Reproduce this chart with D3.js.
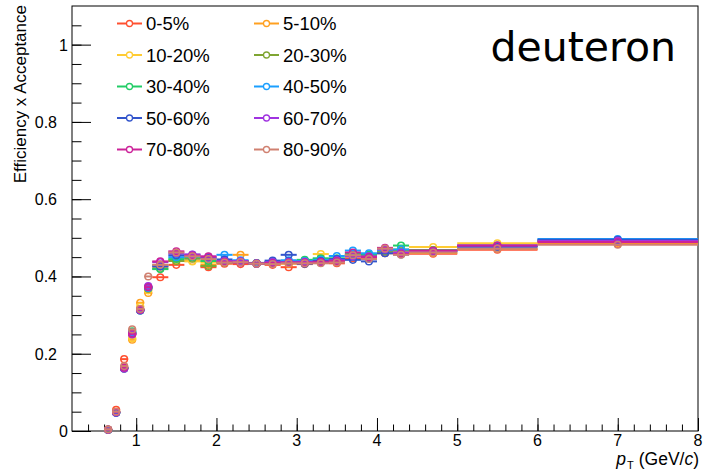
<!DOCTYPE html>
<html>
<head>
<meta charset="utf-8">
<script src="https://cdn.jsdelivr.net/npm/d3@7"></script>
<style>
body { margin: 0; background: #ffffff; }
</style>
</head>
<body>
<div id="chart"></div>
<script>

var width = 703
var height = 472

var margin_left = 72
var margin_right = 5
var margin_top = 6
var margin_bottom = 41

// pT bin edges (GeV/c)
var bin_edges = [0.6, 0.7, 0.8, 0.9, 1.0, 1.1, 1.2, 1.4, 1.6, 1.8, 2.0, 2.2, 2.4, 2.6, 2.8, 3.0, 3.2, 3.4, 3.6, 3.8, 4.0, 4.2, 4.4, 5.0, 6.0, 8.0]

var centralities = ['0-5%', '5-10%', '10-20%', '20-30%', '30-40%', '40-50%', '50-60%', '60-70%', '70-80%', '80-90%']

var colours = ['#ff5030', '#ffa020', '#ffcc33', '#7fa532', '#22cc66', '#1a9fff', '#3355cc', '#a033e0', '#cc2299', '#d08070']

// efficiency x acceptance, one value per pT bin
var eff_0_5   = [0.004, 0.055, 0.186, 0.250, 0.315, 0.372, 0.398, 0.430, 0.447, 0.424, 0.433, 0.432, 0.433, 0.430, 0.424, 0.432, 0.436, 0.434, 0.447, 0.448, 0.460, 0.460, 0.459, 0.469, 0.484]
var eff_5_10  = [0.003, 0.050, 0.165, 0.236, 0.332, 0.357, 0.425, 0.440, 0.440, 0.430, 0.437, 0.456, 0.433, 0.433, 0.433, 0.437, 0.440, 0.438, 0.455, 0.452, 0.462, 0.464, 0.461, 0.472, 0.487]
var eff_10_20 = [0.004, 0.049, 0.163, 0.240, 0.322, 0.364, 0.430, 0.442, 0.439, 0.436, 0.438, 0.440, 0.435, 0.435, 0.438, 0.440, 0.458, 0.445, 0.452, 0.455, 0.468, 0.470, 0.476, 0.486, 0.490]
var eff_20_30 = [0.003, 0.047, 0.162, 0.254, 0.312, 0.368, 0.420, 0.440, 0.446, 0.427, 0.436, 0.438, 0.434, 0.436, 0.440, 0.441, 0.445, 0.443, 0.456, 0.454, 0.465, 0.468, 0.468, 0.478, 0.491]
var eff_30_40 = [0.003, 0.048, 0.163, 0.258, 0.313, 0.371, 0.419, 0.445, 0.450, 0.440, 0.440, 0.440, 0.434, 0.437, 0.437, 0.443, 0.447, 0.447, 0.459, 0.457, 0.470, 0.480, 0.468, 0.480, 0.493]
var eff_40_50 = [0.003, 0.048, 0.163, 0.255, 0.312, 0.370, 0.428, 0.450, 0.452, 0.447, 0.456, 0.442, 0.435, 0.438, 0.442, 0.440, 0.443, 0.453, 0.467, 0.460, 0.468, 0.470, 0.465, 0.478, 0.497]
var eff_50_60 = [0.003, 0.047, 0.161, 0.252, 0.312, 0.373, 0.426, 0.455, 0.456, 0.449, 0.444, 0.437, 0.433, 0.441, 0.456, 0.433, 0.440, 0.445, 0.443, 0.439, 0.460, 0.457, 0.465, 0.477, 0.495]
var eff_60_70 = [0.003, 0.048, 0.162, 0.250, 0.313, 0.375, 0.437, 0.460, 0.457, 0.451, 0.440, 0.440, 0.433, 0.437, 0.437, 0.438, 0.436, 0.442, 0.452, 0.452, 0.470, 0.462, 0.466, 0.480, 0.492]
var eff_70_80 = [0.004, 0.049, 0.164, 0.252, 0.314, 0.372, 0.439, 0.465, 0.454, 0.452, 0.438, 0.436, 0.434, 0.435, 0.436, 0.436, 0.438, 0.440, 0.462, 0.450, 0.474, 0.458, 0.467, 0.480, 0.489]
var eff_80_90 = [0.004, 0.050, 0.168, 0.263, 0.316, 0.400, 0.430, 0.462, 0.452, 0.445, 0.436, 0.437, 0.433, 0.432, 0.434, 0.434, 0.434, 0.436, 0.455, 0.445, 0.472, 0.456, 0.462, 0.472, 0.482]

var all_series = [eff_0_5, eff_5_10, eff_10_20, eff_20_30, eff_30_40, eff_40_50, eff_50_60, eff_60_70, eff_70_80, eff_80_90]

var x_ticks = [1, 2, 3, 4, 5, 6, 7, 8]
var y_ticks = [0, 0.2, 0.4, 0.6, 0.8, 1]

var x = d3.scaleLinear()
  .domain([0.2, 8])
  .range([margin_left, width - margin_right])

var y = d3.scaleLinear()
  .domain([0, 1.1])
  .range([height - margin_bottom, margin_top])

var svg = d3.select('#chart')
  .append('svg')
  .attr('width', width)
  .attr('height', height)
  .style('font-family', '"Liberation Sans", Arial, Helvetica, sans-serif')

// frame
svg
.append('rect')
.attr('x', x(0.2))
.attr('y', y(1.1))
.attr('width', x(8) - x(0.2))
.attr('height', y(0) - y(1.1))
.attr('fill', 'none')
.attr('stroke', '#000')
.attr('stroke-width', 1)

// x axis, ticks pointing into the frame (ROOT style)
var x_minor = d3.range(4, 80, 2).map(function(d) { return d / 10 })

svg
.append('g')
.attr('transform', 'translate(0,' + y(0) + ')')
.call(d3.axisTop(x).tickValues(x_minor).tickSize(6.5).tickFormat(''))
.call(function(g) { g.select('.domain').remove() })

svg
.append('g')
.attr('transform', 'translate(0,' + y(0) + ')')
.call(d3.axisTop(x).tickValues(x_ticks).tickSize(13).tickFormat(''))
.call(function(g) { g.select('.domain').remove() })

svg
.append('g')
.selectAll('text')
.data(x_ticks)
.enter()
.append('text')
.attr('x', function(d) { return x(d) })
.attr('y', y(0) + 15)
.text(function(d) { return d })
.attr('text-anchor', 'middle')
.style('font-size', '16px')

// y axis
var y_minor = d3.range(0, 22).map(function(d) { return d * 0.05 })

svg
.append('g')
.attr('transform', 'translate(' + x(0.2) + ',0)')
.call(d3.axisRight(y).tickValues(y_minor).tickSize(9.5).tickFormat(''))
.call(function(g) { g.select('.domain').remove() })

svg
.append('g')
.attr('transform', 'translate(' + x(0.2) + ',0)')
.call(d3.axisRight(y).tickValues(y_ticks).tickSize(19).tickFormat(''))
.call(function(g) { g.select('.domain').remove() })

svg
.append('g')
.selectAll('text')
.data(y_ticks)
.enter()
.append('text')
.attr('x', function(d) {
  if (d === 0 || d === 1) {
    return (x(0.2) - 4)}
    else {
    return (x(0.2) - 15)}})
.attr('y', function(d) { return y(d) + 6 })
.text(function(d) { return d })
.attr('text-anchor', 'end')
.style('font-size', '16px')

// axis titles
svg
.append('text')
.attr('transform', 'translate(26,' + 5 + ') rotate(-90)')
.text('Efficiency x Acceptance')
.attr('text-anchor', 'end')
.style('font-size', '17px')

var x_title = svg
.append('text')
.attr('x', width - 4)
.attr('y', 465)
.attr('text-anchor', 'end')
.style('font-size', '17.5px')

x_title.append('tspan').text('p').style('font-style', 'italic')
x_title.append('tspan').text('T').attr('dy', 4).attr('dx', 1).style('font-size', '11px')
x_title.append('tspan').text('(GeV/').attr('dy', -4).attr('dx', 5)
x_title.append('tspan').text('c').style('font-style', 'italic')
x_title.append('tspan').text(')')

// histograms: horizontal bin-width bars and open circle markers
var plot = svg.append('g')

all_series.forEach(function(series, k) {

  var points = series.map(function(v, i) {
    return {lo: bin_edges[i], hi: bin_edges[i + 1], value: v}
  })

  var g = plot.append('g')

  g.selectAll('line')
  .data(points)
  .enter()
  .append('line')
  .attr('x1', function(d) { return x(d.lo) })
  .attr('x2', function(d) { return x(d.hi) })
  .attr('y1', function(d) { return y(d.value) })
  .attr('y2', function(d) { return y(d.value) })
  .attr('stroke', colours[k])
  .attr('stroke-width', 2)

  g.selectAll('circle')
  .data(points)
  .enter()
  .append('circle')
  .attr('cx', function(d) { return x((d.lo + d.hi) / 2) })
  .attr('cy', function(d) { return y(d.value) })
  .attr('r', 3.3)
  .attr('fill', 'none')
  .attr('stroke', colours[k])
  .attr('stroke-width', 1.5)
})

// legend
var legend = svg
  .append('g')
  .selectAll('g')
  .data(centralities)
  .enter()
  .append('g')
  .attr('transform', function(d, i) {
    return 'translate(' + (i % 2 === 0 ? 117 : 254) + ',' + (23.5 + Math.floor(i / 2) * 31.5) + ')'})

legend
.append('line')
.attr('x1', 0)
.attr('x2', 25)
.attr('stroke', function(d, i) { return colours[i] })
.attr('stroke-width', 2)

legend
.append('circle')
.attr('cx', 12.5)
.attr('r', 3)
.attr('fill', '#fff')
.attr('stroke', function(d, i) { return colours[i] })
.attr('stroke-width', 1.3)

legend
.append('text')
.attr('x', 29)
.attr('y', 6.5)
.text(function(d) { return d })
.style('font-size', '18.5px')

svg
.append('text')
.attr('x', 676)
.attr('y', 61)
.text('deuteron')
.attr('text-anchor', 'end')
.style('font-family', '"DejaVu Sans", sans-serif')
.style('font-size', '41px')

</script>
</body>
</html>
